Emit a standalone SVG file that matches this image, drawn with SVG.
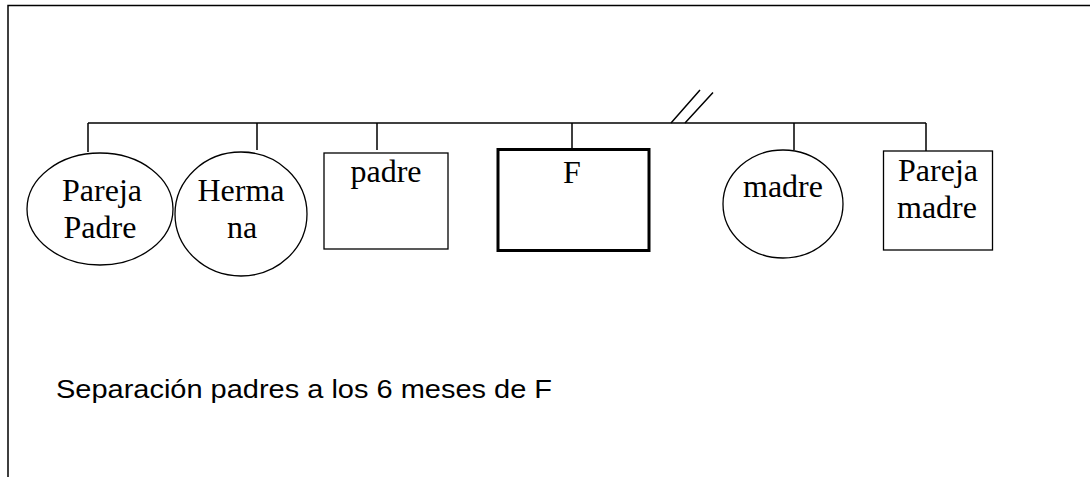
<svg xmlns="http://www.w3.org/2000/svg" width="1090" height="477" viewBox="0 0 1090 477">
<style>
.ln{stroke:#000;stroke-width:1.5;fill:none}
.nd{stroke:#000;stroke-width:1.3;fill:#fff}
.bold{stroke:#000;stroke-width:3;fill:#fff}
.t{font-family:"Liberation Serif","Times New Roman",serif;font-size:32px;fill:#000;text-anchor:middle}
.s{font-family:"Liberation Sans",Arial,sans-serif;font-size:26px;fill:#000}
</style>
<rect width="1090" height="477" fill="#fff"/>
<path class="ln" d="M8,477 V5.5 H1090"/>
<g id="connectors">
<path class="ln" d="M88,123 H926"/>
<path class="ln" d="M88,123 V152 M257,123 V150 M377,123 V150 M572,123 V149 M794,123 V150 M926,123 V151"/>
<path class="ln" d="M700,90 L671,123 M713,92.5 L685,123"/>
</g>
<g id="pareja-padre">
<ellipse class="nd" cx="100" cy="209" rx="73" ry="56"/>
<text class="t" x="102" y="201">Pareja</text>
<text class="t" x="100" y="238">Padre</text>
</g>
<g id="hermana">
<ellipse class="nd" cx="241" cy="214" rx="66" ry="62"/>
<text class="t" x="241" y="201">Herma</text>
<text class="t" x="242" y="238">na</text>
</g>
<g id="padre">
<rect class="nd" x="324" y="153" width="124" height="96"/>
<text class="t" x="386" y="182">padre</text>
</g>
<g id="F">
<rect class="bold" x="498" y="149.5" width="151" height="101"/>
<text class="t" x="572" y="183">F</text>
</g>
<g id="madre">
<ellipse class="nd" cx="783" cy="204" rx="60" ry="54"/>
<text class="t" x="783" y="197">madre</text>
</g>
<g id="pareja-madre">
<rect class="nd" x="883.5" y="151" width="109" height="99"/>
<text class="t" x="938" y="181">Pareja</text>
<text class="t" x="937" y="218">madre</text>
</g>
<text class="s" x="56" y="398" textLength="496" lengthAdjust="spacingAndGlyphs">Separación padres a los 6 meses de F</text>
</svg>
